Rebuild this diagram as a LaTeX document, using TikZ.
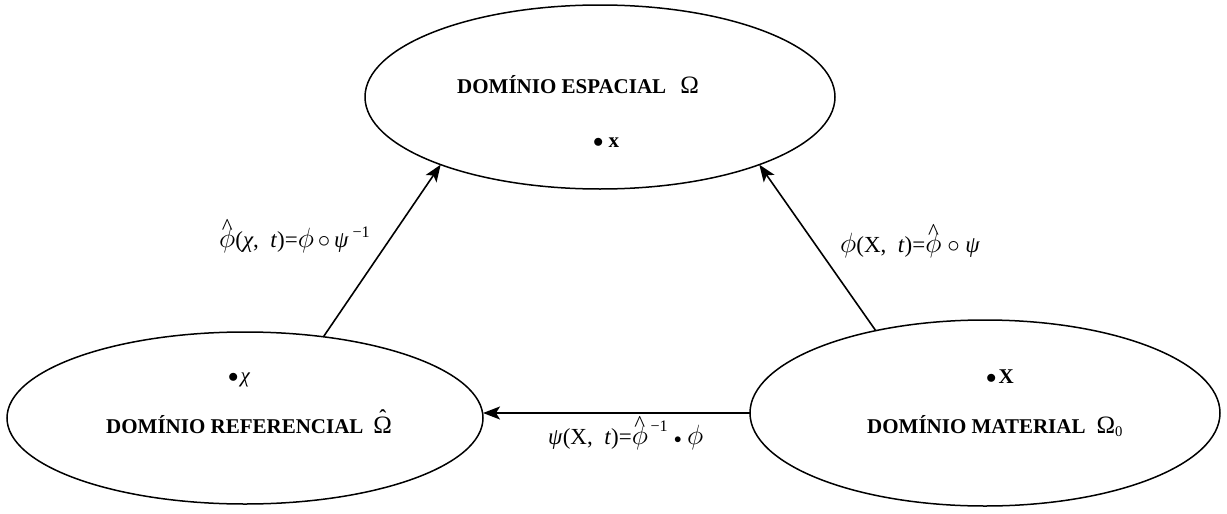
\documentclass[tikz,border=0pt]{standalone}
\usepackage{fontspec}
\setmainfont{Liberation Serif}
\usetikzlibrary{shapes.geometric,arrows.meta}
\newcommand{\hatof}[3]{\ooalign{#1\cr\hidewidth\raisebox{#2}{\upshape #3}\hidewidth\cr}}
\newcommand{\bigOm}{{\mdseries\fontsize{25}{25}\selectfont Ω}}
\newcommand{\vphi}{\scalebox{1.12}{$\phi$}}
\newcommand{\hphi}{\hatof{\vphi}{0.56em}{\textasciicircum}}
\begin{document}
\begin{tikzpicture}[x=1pt,y=-1pt,
  dom/.style={draw, ellipse, line width=1.5pt, inner sep=0pt, outer sep=0pt},
  conn/.style={line width=1.6pt, -{Stealth[length=17pt,width=13pt,inset=4pt]}},
  title/.style={font=\fontsize{21}{25}\selectfont\bfseries, anchor=base west, inner sep=0pt},
  lab/.style={font=\fontsize{23}{27}\selectfont, anchor=base west, inner sep=0pt}]
\useasboundingbox (0,0) rectangle (1227,514);
% domains
\node[dom, minimum width=470pt, minimum height=184pt] (T) at (600,97) {};
\node[dom, minimum width=476pt, minimum height=172pt] (L) at (245,418) {};
\node[dom, minimum width=470pt, minimum height=186pt] (R) at (985,413) {};
% texts in domains
\node[title] (tT) at (457,93) {DOMÍNIO ESPACIAL\hspace{14pt}\bigOm};
\node[title] (pT) at (593,147) {$\bullet$\hspace{5pt}x};
\node[title] (tL) at (106,433) {DOMÍNIO REFERENCIAL\hspace{10pt}\hatof{\bigOm}{0.42em}{ˆ}};
\node[title] (pL) at (228,382) {$\bullet$\hspace{2pt}{\mdseries\itshape χ}};
\node[title] (tR) at (867,433) {DOMÍNIO MATERIAL\hspace{11pt}\bigOm\textsubscript{\mdseries 0}};
\node[title] (pR) at (986,383) {$\bullet$\hspace{2pt}X};
% connectors
\draw[conn] (L.46.4) -- (T.203.1);
\draw[conn] (R.143) -- (T.337.5);
\draw[conn] (R.west) -- (R.west -| L.east);
% labels
\node[lab] (l1) at (219,247) {\hphi(\textit{χ},\ \ \textit{t})=\vphi\,$\circ$\,\textit{ψ}\,\textsuperscript{−1}};
\node[lab] (l2) at (840,252) {\vphi(X,\ \ \textit{t})=\hphi\ $\circ$\ \textit{ψ}};
\node[lab] (l3) at (548,444) {\textit{ψ}(X,\ \ \textit{t})=\hphi\raisebox{0.15em}{\textsuperscript{\,−1}}\ \raisebox{1pt}{\scalebox{0.6}{$\bullet$}}\ \vphi};
\end{tikzpicture}
\end{document}
